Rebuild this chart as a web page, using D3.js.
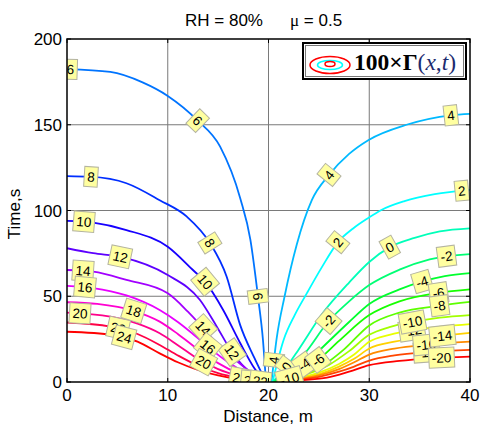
<!DOCTYPE html>
<html>
<head>
<meta charset="UTF-8">
<script src="https://cdn.jsdelivr.net/npm/d3@7"></script>
<style>
  body { margin: 0; background: #fff; }
  text { font-family: Arial, "Liberation Sans", sans-serif; }
</style>
</head>
<body>
<div id="chart"></div>
<script>
// axis ticks
const xTicks = [0, 10, 20, 30, 40];
const yTicks = [0, 50, 100, 150, 200];

// contour lines, [distance m, time s]
// left family (positive levels)
const c6 = [[0,182.4],[4.3,180.8],[7.5,174.7],[10,166.8],[12.9,152.8],[15.2,137.2],[17.2,107],[18.2,83],[18.96,49.6],[19.45,24.5],[19.75,0]];
const c8 = [[0,120.1],[2.3,119.7],[5.9,115.9],[9.2,106],[11.9,96.4],[14.2,80.9],[15.85,61.4],[17.2,33],[18.6,14],[19.75,0]];
const c10 = [[0,94],[2.6,92.9],[5.9,88.6],[10,78.9],[12.5,65.3],[13.7,58.5],[15.5,42],[17.2,22.6],[18.6,8],[19.7,0]];
const c12 = [[0,78],[2.6,75.1],[5.3,73],[10,62.4],[13.2,47.8],[14.8,33],[16.35,17.7],[18.3,5],[19.7,0]];
const c14 = [[0,65.3],[2.6,64.3],[5.9,59.5],[10,51.7],[12,41],[13.5,31.5],[15,22],[16.5,14],[18.3,5.5],[19.7,0]];
const c16 = [[0,56],[2.6,54.8],[5.9,50.5],[9.2,42],[11,35],[12.5,28],[14,20.5],[16,11.5],[18,4.5],[19.7,0]];
const c18 = [[0,46.5],[3,45.5],[6.6,41.5],[9.2,35.2],[11,28],[13,19],[15,11],[17,5],[19.7,0]];
const c20 = [[0,40.4],[4.3,38.1],[7,34],[9.2,28.4],[11,21.5],[13,13.5],[15,7.5],[17,3.5],[19.7,0]];
const c22 = [[0,34.7],[4.3,32.3],[7,28],[9.2,21.6],[11,15.5],[13,9.5],[15,5.2],[17,2.4],[19.7,0]];
const c24 = [[0,29.3],[4.6,27.4],[7,23.5],[9.2,16.7],[11,11.5],[13,7],[15,3.8],[17,1.6],[19.7,0]];
// right family (4 down to -20)
const c4 = [[20.3,0],[20.8,25],[21.6,50],[22.8,80],[24.3,106],[26,120.7],[28,133],[29.9,141],[33.7,150],[38.1,155.5],[40,156.3]];
const c2 = [[20.4,0],[21.5,24.5],[22.6,39],[23.8,51.7],[25.3,67],[26.9,81.6],[28.4,89.5],[29.9,95.6],[31.2,100.3],[33.5,105.5],[36.5,109.5],[40,112]];
const c0 = [[20.4,0],[21.8,8.9],[23,19],[25.3,39.5],[28,58],[30,70],[32,78.5],[34.5,84],[37,87.8],[40,89.6]];
const cm2 = [[20.5,0],[22,7.5],[23.5,16],[25.9,35],[28,47],[30,56.5],[33,65.5],[36,71.5],[40,74.6]];
const cm4 = [[20.6,0],[22,5],[23.6,10.5],[25.5,21],[28,35],[30,45.5],[33,54],[35.2,58.5],[37.5,61.8],[40,63.5]];
const cm6 = [[20.7,0],[22.8,5.5],[24.9,12.8],[27,24],[30,39],[33,47],[36.9,52],[40,54]];
const cm8 = [[20.8,0],[23,4],[25.5,10],[27.5,19],[30,33],[33,40.5],[37,44.5],[40,46.7]];
const cm10 = [[20.9,0],[22.1,2],[24,5],[26,10],[28,18],[30,27.5],[32,32],[34.3,35],[37,37.5],[40,39]];
const cm12 = [[21,0],[23,2.5],[25,5.5],[27,10.5],[28.5,16],[30,23.5],[32,27.5],[35,30.8],[40,33.8]];
const cm14 = [[21.1,0],[23,2],[25,4.5],[27,9],[28.5,13.5],[30,19.5],[32.5,23.5],[37.3,27],[40,28.7]];
const cm16 = [[21.2,0],[23,1.6],[25,3.8],[27,7.5],[28.5,11.5],[30,16],[32.5,19.5],[35.7,21.8],[40,23.5]];
const cm18 = [[21.3,0],[23,1.3],[25,3],[27,6],[28.5,9],[30,12.5],[32.5,15.5],[36,17.5],[40,18.7]];
const cm20 = [[21.4,0],[23,1],[25.8,2.5],[28,6],[30,9.8],[33,12.3],[36,13.8],[40,14.8]];

const contours = [
  [6, c6], [8, c8], [10, c10], [12, c12], [14, c14], [16, c16], [18, c18], [20, c20], [22, c22], [24, c24],
  [4, c4], [2, c2], [0, c0], [-2, cm2], [-4, cm4], [-6, cm6], [-8, cm8], [-10, cm10],
  [-12, cm12], [-14, cm14], [-16, cm16], [-18, cm18], [-20, cm20]
];

// inline labels: [level, x, y]
const labelSpots = [
  [6, 0.35, 181], [6, 12.9, 152], [6, 18.96, 50],
  [8, 2.4, 120], [8, 14.2, 81],
  [10, 1.7, 93.5], [10, 13.7, 58.5],
  [12, 5.3, 73], [12, 16.4, 17.5],
  [14, 1.6, 65], [14, 13.5, 31.5],
  [16, 1.8, 55], [16, 13.9, 20],
  [18, 6.6, 41.5],
  [20, 1.3, 40], [20, 13.5, 11],
  [22, 5.1, 32], [24, 5.6, 24.5],
  [22, 17.2, 3], [24, 18.3, 1.6], [22, 19.2, 1.2],
  [4, 38.1, 155.7], [4, 26, 120.7], [4, 20.5, 12.8],
  [2, 39.2, 112], [2, 26.9, 81.6],
  [0, 32, 79], [0, 21.8, 8.9],
  [-2, 37.7, 73], [-2, 25.9, 36],
  [-4, 35.2, 59.5], [-4, 23.6, 9.9],
  [-6, 36.9, 52], [-6, 24.9, 12.8],
  [-8, 37, 44],
  [-12, 34.3, 28], [-10, 34.3, 34.5], [-10, 22.1, 2.1],
  [-18, 35.7, 15], [-16, 35.7, 20], [-14, 37.3, 26], [-20, 37.2, 12.8]
];

const W = 481, H = 435;
const x = d3.scaleLinear().domain([0, 40]).range([67, 470]);
const y = d3.scaleLinear().domain([0, 200]).range([382, 39]);
const hue = d3.scaleLinear().domain([-20, 24]).range([0, 360]);
const colorOf = lv => d3.hsl(hue(lv) % 360, 1, 0.5).toString();

const svg = d3.select("#chart").append("svg").attr("width", W).attr("height", H);

svg.append("defs").append("clipPath").attr("id", "plotclip")
  .append("rect").attr("x", 67).attr("y", 39).attr("width", 403).attr("height", 343);

// grid
svg.append("g").selectAll("line").data(xTicks.slice(1, -1)).join("line")
  .attr("x1", d => x(d)).attr("x2", d => x(d)).attr("y1", 39).attr("y2", 382)
  .attr("stroke", "#7a7a7a").attr("stroke-width", 1);
svg.append("g").selectAll("line").data(yTicks.slice(1, -1)).join("line")
  .attr("y1", d => y(d)).attr("y2", d => y(d)).attr("x1", 67).attr("x2", 470)
  .attr("stroke", "#7a7a7a").attr("stroke-width", 1);

// contours
const line = d3.line().x(d => x(d[0])).y(d => y(d[1])).curve(d3.curveMonotoneX);
const plot = svg.append("g").attr("clip-path", "url(#plotclip)");
const pathByLevel = new Map();
contours.forEach(([lv, pts]) => {
  const p = plot.append("path").attr("d", line(pts))
    .attr("fill", "none").attr("stroke", colorOf(lv)).attr("stroke-width", 1.8);
  pathByLevel.set(lv, p.node());
});

// labels along the contours
const labels = plot.append("g");
labelSpots.forEach(([lv, lx, ly]) => {
  const node = pathByLevel.get(lv);
  const total = node.getTotalLength();
  const px = x(lx), py = y(ly);
  let best = 0, bd = Infinity;
  for (let s = 0; s <= total; s += 0.5) {
    const p = node.getPointAtLength(s);
    const dd = (p.x - px) ** 2 + (p.y - py) ** 2;
    if (dd < bd) { bd = dd; best = s; }
  }
  const p = node.getPointAtLength(best);
  const a = node.getPointAtLength(Math.max(0, best - 4));
  const b = node.getPointAtLength(Math.min(total, best + 4));
  let ang = Math.atan2(b.y - a.y, b.x - a.x) * 180 / Math.PI;
  if (ang > 90) ang -= 180;
  if (ang < -90) ang += 180;
  const g = labels.append("g").attr("transform", `translate(${p.x},${p.y}) rotate(${ang})`);
  const t = g.append("text").text(lv).attr("text-anchor", "middle").attr("dy", "0.36em")
    .attr("font-size", 13.5).attr("fill", "#000");
  const w = t.node().getComputedTextLength();
  g.insert("rect", "text").attr("x", -w / 2 - 3).attr("y", -10).attr("width", w + 6).attr("height", 20)
    .attr("fill", "#ffffa0").attr("stroke", "#b4b4a0").attr("stroke-width", 1);
});

// ticks (inward, all four sides)
const tk = svg.append("g").attr("stroke", "#000").attr("stroke-width", 1);
xTicks.forEach(d => {
  tk.append("line").attr("x1", x(d)).attr("x2", x(d)).attr("y1", 382).attr("y2", 378);
  tk.append("line").attr("x1", x(d)).attr("x2", x(d)).attr("y1", 39).attr("y2", 43);
});
yTicks.forEach(d => {
  tk.append("line").attr("y1", y(d)).attr("y2", y(d)).attr("x1", 67).attr("x2", 71);
  tk.append("line").attr("y1", y(d)).attr("y2", y(d)).attr("x1", 470).attr("x2", 466);
});

// axes box
svg.append("rect").attr("x", 67).attr("y", 39).attr("width", 403).attr("height", 343)
  .attr("fill", "none").attr("stroke", "#000").attr("stroke-width", 1.5);

// tick labels
svg.append("g").selectAll("text").data(xTicks).join("text")
  .attr("x", d => x(d)).attr("y", 401).attr("text-anchor", "middle")
  .attr("font-size", 17).text(d => d);
svg.append("g").selectAll("text").data(yTicks).join("text")
  .attr("x", 62).attr("y", d => y(d) + 6).attr("text-anchor", "end")
  .attr("font-size", 17).text(d => d);

// axis titles
svg.append("text").attr("x", 268).attr("y", 422).attr("text-anchor", "middle")
  .attr("font-size", 17).text("Distance, m");
svg.append("text").attr("transform", "translate(20,214) rotate(-90)").attr("text-anchor", "middle")
  .attr("font-size", 17).text("Time,s");

// title
svg.append("text").attr("x", 185).attr("y", 26).attr("font-size", 17).text("RH = 80%");
const mu = svg.append("text").attr("x", 290).attr("y", 26).attr("font-size", 17);
mu.append("tspan").attr("font-family", "'Liberation Serif','Times New Roman',serif").text("μ");
mu.append("tspan").text(" = 0.5");

// legend
const lg = svg.append("g");
lg.append("rect").attr("x", 303).attr("y", 43).attr("width", 163).attr("height", 36)
  .attr("fill", "#fff").attr("stroke", "#000").attr("stroke-width", 2);
lg.append("rect").attr("x", 305.5).attr("y", 45.5).attr("width", 158).attr("height", 31)
  .attr("fill", "none").attr("stroke", "#777").attr("stroke-width", 1);
lg.append("ellipse").attr("cx", 330).attr("cy", 65).attr("rx", 20).attr("ry", 8.5)
  .attr("fill", "none").attr("stroke", colorOf(-20)).attr("stroke-width", 1.5);
lg.append("ellipse").attr("cx", 330).attr("cy", 65).attr("rx", 12.5).attr("ry", 4.5)
  .attr("fill", "none").attr("stroke", colorOf(2)).attr("stroke-width", 1.5);
lg.append("ellipse").attr("cx", 330).attr("cy", 64).attr("rx", 5).attr("ry", 2.5)
  .attr("fill", "none").attr("stroke", colorOf(-20)).attr("stroke-width", 1.5);
const lt = lg.append("text").attr("x", 354).attr("y", 70).attr("font-size", 23.5)
  .style("font-family", "'Liberation Serif','Times New Roman',serif");
lt.append("tspan").attr("fill", "#000").attr("font-weight", "bold").text("100×Γ");
lt.append("tspan").attr("fill", "#1c2b6e").text("(");
lt.append("tspan").attr("fill", "#1c2b6e").attr("font-style", "italic").text("x");
lt.append("tspan").attr("fill", "#1c2b6e").text(",");
lt.append("tspan").attr("fill", "#1c2b6e").attr("font-style", "italic").text("t");
lt.append("tspan").attr("fill", "#1c2b6e").text(")");
</script>
</body>
</html>
